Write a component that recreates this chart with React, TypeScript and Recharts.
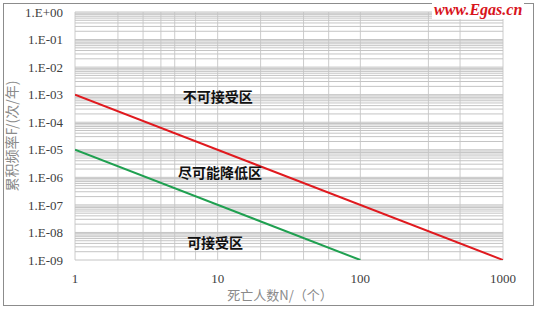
import {
  LineChart, Line, XAxis, YAxis, CartesianGrid, ReferenceDot, ReferenceLine,
} from 'recharts';

// 死亡人数 N
const xTicks = [1, 10, 100, 1000];
const xTickLabels = ['1', '10', '100', '1000'];

// 累积频率 F
const yTicks = [1, 1e-1, 1e-2, 1e-3, 1e-4, 1e-5, 1e-6, 1e-7, 1e-8, 1e-9];
const yTickLabels = [
  '1.E+00', '1.E-01', '1.E-02', '1.E-03', '1.E-04',
  '1.E-05', '1.E-06', '1.E-07', '1.E-08', '1.E-09',
];

// 上限线 (红) / 下限线 (绿)
const upperN = [1, 1000];
const upperF = [1e-3, 1e-9];
const lowerN = [1, 100];
const lowerF = [1e-5, 1e-9];

// 区域标注
const zoneNames = ['不可接受区', '尽可能降低区', '可接受区'];
const zoneN = [10, 10.4, 9.6];
const zoneF = [8.3e-4, 1.4e-6, 4.2e-9];

const upper = upperN.map((n, i) => ({ n, f: upperF[i] }));
const lower = lowerN.map((n, i) => ({ n, f: lowerF[i] }));

// log minor grid: 1..9 within each decade
const minorGrid = (start: number, decades: number) => {
  const out: number[] = [];
  for (let d = 0; d < decades; d++) {
    const base = start * Math.pow(10, d);
    for (let k = 1; k <= 9; k++) out.push(base * k);
  }
  out.push(start * Math.pow(10, decades));
  return out;
};
const vGrid = minorGrid(1, 3);
const hGrid = minorGrid(1e-9, 9);

const serif = 'Liberation Serif, Times New Roman, serif';
const cjk = 'Noto Sans CJK SC, sans-serif';

const labelFor = (ticks: number[], labels: string[], v: number) => {
  const i = ticks.findIndex((t) => Math.abs(Math.log10(t) - Math.log10(v)) < 1e-6);
  return i >= 0 ? labels[i] : String(v);
};

const XTick = (props: any) => (
  <text
    x={props.x}
    y={props.y}
    dy="0.71em"
    textAnchor="middle"
    fill="#404040"
    style={{ fontFamily: serif, fontSize: 13 }}
  >
    {labelFor(xTicks, xTickLabels, props.payload.value)}
  </text>
);

const YTick = (props: any) => (
  <text
    x={props.x}
    y={props.y}
    dy="0.355em"
    textAnchor="end"
    fill="#404040"
    style={{ fontFamily: serif, fontSize: 13 }}
  >
    {labelFor(yTicks, yTickLabels, props.payload.value)}
  </text>
);

export default function App() {
  return (
    <div
      style={{
        position: 'absolute', left: 0, top: 0, width: 538, height: 310,
        background: '#fff',
      }}
    >
      <div
        style={{
          position: 'absolute', left: 3, top: 3, width: 529, height: 301,
          border: '1px solid #8c8c8c',
        }}
      />
      <LineChart
        width={538}
        height={310}
        margin={{ top: 12, right: 35, bottom: 0, left: 0 }}
      >
        <CartesianGrid
          horizontal={false}
          vertical={{ stroke: '#a8a8a8' }}
          verticalValues={vGrid}
          strokeWidth={1}
        />
        {hGrid.map((v) => (
          <ReferenceLine
            key={v}
            y={v}
            stroke="#c4c4c4"
            strokeWidth={1}
            ifOverflow="visible"
          />
        ))}
        <XAxis
          dataKey="n"
          type="number"
          scale="log"
          domain={[1, 1000]}
          ticks={xTicks}
          axisLine={false}
          tickLine={false}
          tickMargin={8}
          height={50}
          allowDataOverflow
          tick={<XTick />}
          label={{
            value: '死亡人数N/（个）',
            position: 'insideBottom',
            offset: 10,
            dx: -9,
            fill: '#8a8a8a',
            fontSize: 13,
            style: { fontFamily: cjk },
          }}
        />
        <YAxis
          dataKey="f"
          type="number"
          scale="log"
          domain={[1e-9, 1]}
          ticks={yTicks}
          axisLine={false}
          tickLine={false}
          tickMargin={6}
          width={75}
          allowDataOverflow
          tick={<YTick />}
          label={{
            value: '累积频率F/(次/年)',
            angle: -90,
            position: 'insideLeft',
            offset: 12,
            fill: '#8a8a8a',
            fontSize: 14,
            style: { textAnchor: 'middle', fontFamily: cjk },
          }}
        />
        <Line
          data={upper}
          dataKey="f"
          stroke="#e0191e"
          strokeWidth={2}
          dot={false}
          isAnimationActive={false}
        />
        <Line
          data={lower}
          dataKey="f"
          stroke="#1fa050"
          strokeWidth={2}
          dot={false}
          isAnimationActive={false}
        />
        {zoneNames.map((name, i) => (
          <ReferenceDot
            key={name}
            x={zoneN[i]}
            y={zoneF[i]}
            r={0}
            fill="none"
            stroke="none"
            label={{
              value: name,
              position: 'center',
              fill: '#111',
              fontSize: 14,
              fontWeight: 600,
              style: { fontFamily: cjk },
            }}
          />
        ))}
      </LineChart>
      <div
        style={{
          position: 'absolute', left: 432, top: 1, padding: '0 2px',
          background: '#fff', color: '#d8141c', fontFamily: serif,
          fontStyle: 'italic', fontWeight: 'bold', fontSize: 16, lineHeight: '18px',
        }}
      >
        www.Egas.cn
      </div>
    </div>
  );
}
